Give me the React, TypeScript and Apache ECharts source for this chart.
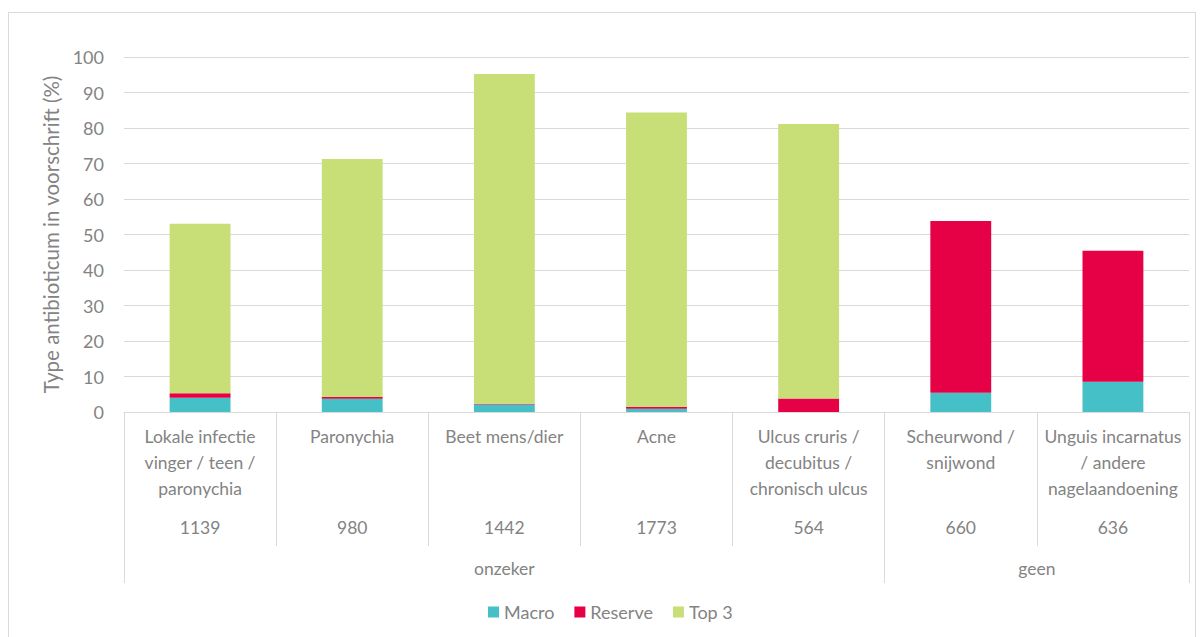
import React, { useEffect, useRef } from "react";
import * as echarts from "echarts";

const categories = [
  "Lokale infectie\nvinger / teen /\nparonychia",
  "Paronychia",
  "Beet mens/dier",
  "Acne",
  "Ulcus cruris /\ndecubitus /\nchronisch ulcus",
  "Scheurwond /\nsnijwond",
  "Unguis incarnatus\n/ andere\nnagelaandoening",
];
const counts = ["1139", "980", "1442", "1773", "564", "660", "636"];
const groups = ["onzeker", "geen"];
const groupCenters = [2.5, 6];
const groupBounds = [0, 5, 7];

const macro = [4.0, 3.7, 2.1, 0.9, 0.0, 5.4, 8.5];
const reserve = [1.3, 0.5, 0.2, 0.6, 3.8, 48.4, 36.9];
const top3 = [47.7, 67.1, 92.9, 82.9, 77.3, 0, 0];

const FONT = "Lato";
const TXT = "#838383";
const LINE = "#d9d9d9";

export default function App() {
  const ref = useRef<HTMLDivElement>(null);
  useEffect(() => {
    if (!ref.current) return;
    const chart = echarts.init(ref.current, null, { renderer: "svg" });
    chart.setOption({
      animation: false,
      textStyle: { fontFamily: FONT },
      grid: { left: 115, right: 6, top: 44, height: 355 },
      legend: {
        data: ["Macro", "Reserve", "Top 3"],
        top: 585,
        left: 474,
        itemWidth: 11,
        itemHeight: 11,
        itemGap: 20,
        icon: "rect",
        textStyle: { color: TXT, fontSize: 18, fontFamily: FONT },
      },
      xAxis: [
        {
          type: "category",
          data: categories,
          axisLine: { show: true, lineStyle: { color: LINE, width: 1 } },
          axisTick: { show: true, interval: 0, length: 134, lineStyle: { color: LINE } },
          axisLabel: {
            interval: 0,
            color: TXT,
            fontSize: 17.5,
            lineHeight: 26,
            margin: 11,
            fontFamily: FONT,
            verticalAlign: "top",
          },
        },
        {
          type: "category",
          data: counts,
          position: "bottom",
          axisLine: { show: false },
          axisTick: { show: false },
          axisLabel: {
            interval: 0,
            color: TXT,
            fontSize: 17.5,
            lineHeight: 26,
            margin: 102,
            fontFamily: FONT,
            verticalAlign: "top",
          },
        },
        {
          type: "value",
          min: 0,
          max: 7,
          position: "bottom",
          offset: 134,
          axisLine: { show: false },
          splitLine: { show: false },
          axisTick: {
            show: true,
            length: 37,
            customValues: groupBounds,
            lineStyle: { color: LINE },
          },
          axisLabel: {
            customValues: groupCenters,
            formatter: (v: number) => groups[groupCenters.indexOf(v)] ?? "",
            color: TXT,
            fontSize: 17.5,
            margin: 9,
            fontFamily: FONT,
            verticalAlign: "top",
            lineHeight: 26,
          },
        },
      ],
      yAxis: {
        type: "value",
        min: 0,
        max: 100,
        interval: 10,
        name: "Type antibioticum in voorschrift (%)",
        nameLocation: "middle",
        nameGap: 62,
        nameTextStyle: { color: TXT, fontSize: 20.5, fontFamily: FONT },
        axisLine: { show: false },
        axisTick: { show: false },
        splitLine: { lineStyle: { color: LINE, width: 1 } },
        axisLabel: { color: TXT, fontSize: 18, margin: 20, fontFamily: FONT },
      },
      series: [
        { name: "Macro", type: "bar", stack: "a", data: macro, barWidth: "40%", itemStyle: { color: "#44c0c6" } },
        { name: "Reserve", type: "bar", stack: "a", data: reserve, barWidth: "40%", itemStyle: { color: "#e60045" } },
        { name: "Top 3", type: "bar", stack: "a", data: top3, barWidth: "40%", itemStyle: { color: "#c8df78" } },
      ],
    });
    return () => chart.dispose();
  }, []);
  return (
    <div
      style={{
        position: "absolute",
        left: 8,
        top: 12,
        width: 1188,
        height: 640,
        border: "1px solid #d9d9d9",
        boxSizing: "border-box",
        background: "#fff",
      }}
    >
      <div ref={ref} style={{ width: "100%", height: "100%" }} />
    </div>
  );
}
